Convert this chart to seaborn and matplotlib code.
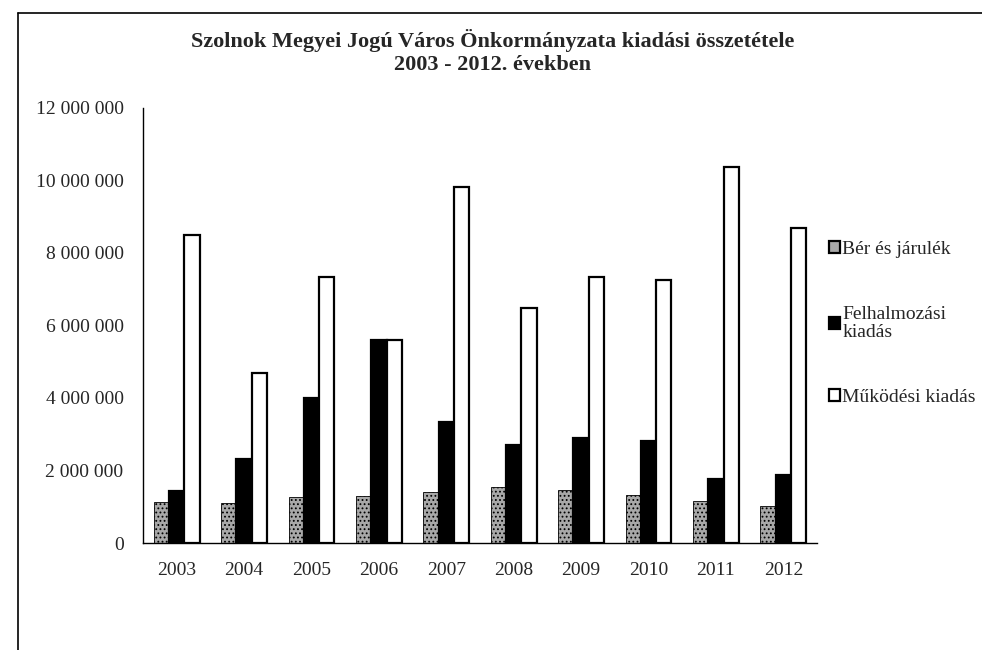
import matplotlib
matplotlib.use("Agg")
import matplotlib.pyplot as plt
import matplotlib.ticker as mticker
from matplotlib.lines import Line2D
import pandas as pd
import seaborn as sns

# Data (Ft, thousands)
years = ["2003", "2004", "2005", "2006", "2007", "2008", "2009", "2010", "2011", "2012"]
ber = [1130000, 1090000, 1280000, 1300000, 1400000, 1540000, 1470000, 1320000, 1170000, 1030000]
felhalm = [1440000, 2310000, 4010000, 5600000, 3330000, 2700000, 2900000, 2810000, 1770000, 1880000]
mukodesi = [8500000, 4700000, 7350000, 5610000, 9810000, 6480000, 7350000, 7240000, 10360000, 8680000]
series = ["Bér és járulék", "Felhalmozási\nkiadás", "Működési kiadás"]

df = pd.DataFrame({
    "year": years * 3,
    "value": ber + felhalm + mukodesi,
    "series": [series[0]] * 10 + [series[1]] * 10 + [series[2]] * 10,
})

sns.set_style("white")
plt.rcParams["font.family"] = ["Liberation Serif", "DejaVu Serif"]
plt.rcParams["hatch.color"] = "#4a4a4a"
plt.rcParams["hatch.linewidth"] = 0.8

fig = plt.figure(figsize=(9.82, 6.5), dpi=100)
ax = fig.add_axes([0.1456, 0.1646, 0.832 - 0.1456, 0.834 - 0.1646])

palette = {series[0]: "#a8a8a8", series[1]: "black", series[2]: "white"}
sns.barplot(data=df, x="year", y="value", hue="series", hue_order=series,
            palette=palette, width=0.68, edgecolor="black", linewidth=1.6,
            saturation=1, ax=ax, legend=True)

for bar in ax.containers[0]:
    bar.set_hatch("....")
    bar.set_linewidth(0.6)

ax.set_ylim(0, 12000000)
ax.set_xlim(-0.5, 9.5)
ax.yaxis.set_major_locator(mticker.MultipleLocator(2000000))
ax.yaxis.set_major_formatter(mticker.FuncFormatter(lambda v, p: f"{v:,.0f}".replace(",", " ")))
ax.set_xlabel("")
ax.set_ylabel("")

ax.set_xticks([i + 0.5 for i in range(-1, 10)], minor=True)
ax.tick_params(axis="x", which="major", length=0, labelsize=14, pad=14)
ax.tick_params(axis="x", which="minor", length=5, width=1, direction="out", color="black")
ax.tick_params(axis="y", which="major", length=5, width=1, direction="out", labelsize=14, pad=9, color="black")

sns.despine(ax=ax)
for s in ["left", "bottom"]:
    ax.spines[s].set_color("black")
    ax.spines[s].set_linewidth(1)

fig.suptitle("Szolnok Megyei Jogú Város Önkormányzata kiadási összetétele\n2003 - 2012. években",
             x=0.502, y=0.955, fontsize=16, fontweight="bold", linespacing=1.15)

handles, labels = ax.get_legend_handles_labels()
ax.legend_.remove()
leg = fig.legend(handles, labels, loc="upper left", bbox_to_anchor=(0.836, 0.641),
                 frameon=False, fontsize=14, handlelength=0.6, handleheight=0.6,
                 handletextpad=0.1, labelspacing=2.45, borderaxespad=0)
for t in leg.get_texts():
    t.set_linespacing(1.1)

# outer frame of the scanned chart
fig.add_artist(Line2D([18 / 982, 18 / 982], [0, 1 - 13 / 650], color="black", lw=1.2))
fig.add_artist(Line2D([18 / 982, 1], [1 - 13 / 650, 1 - 13 / 650], color="black", lw=1.2))

fig.savefig("out.png", dpi=100)
